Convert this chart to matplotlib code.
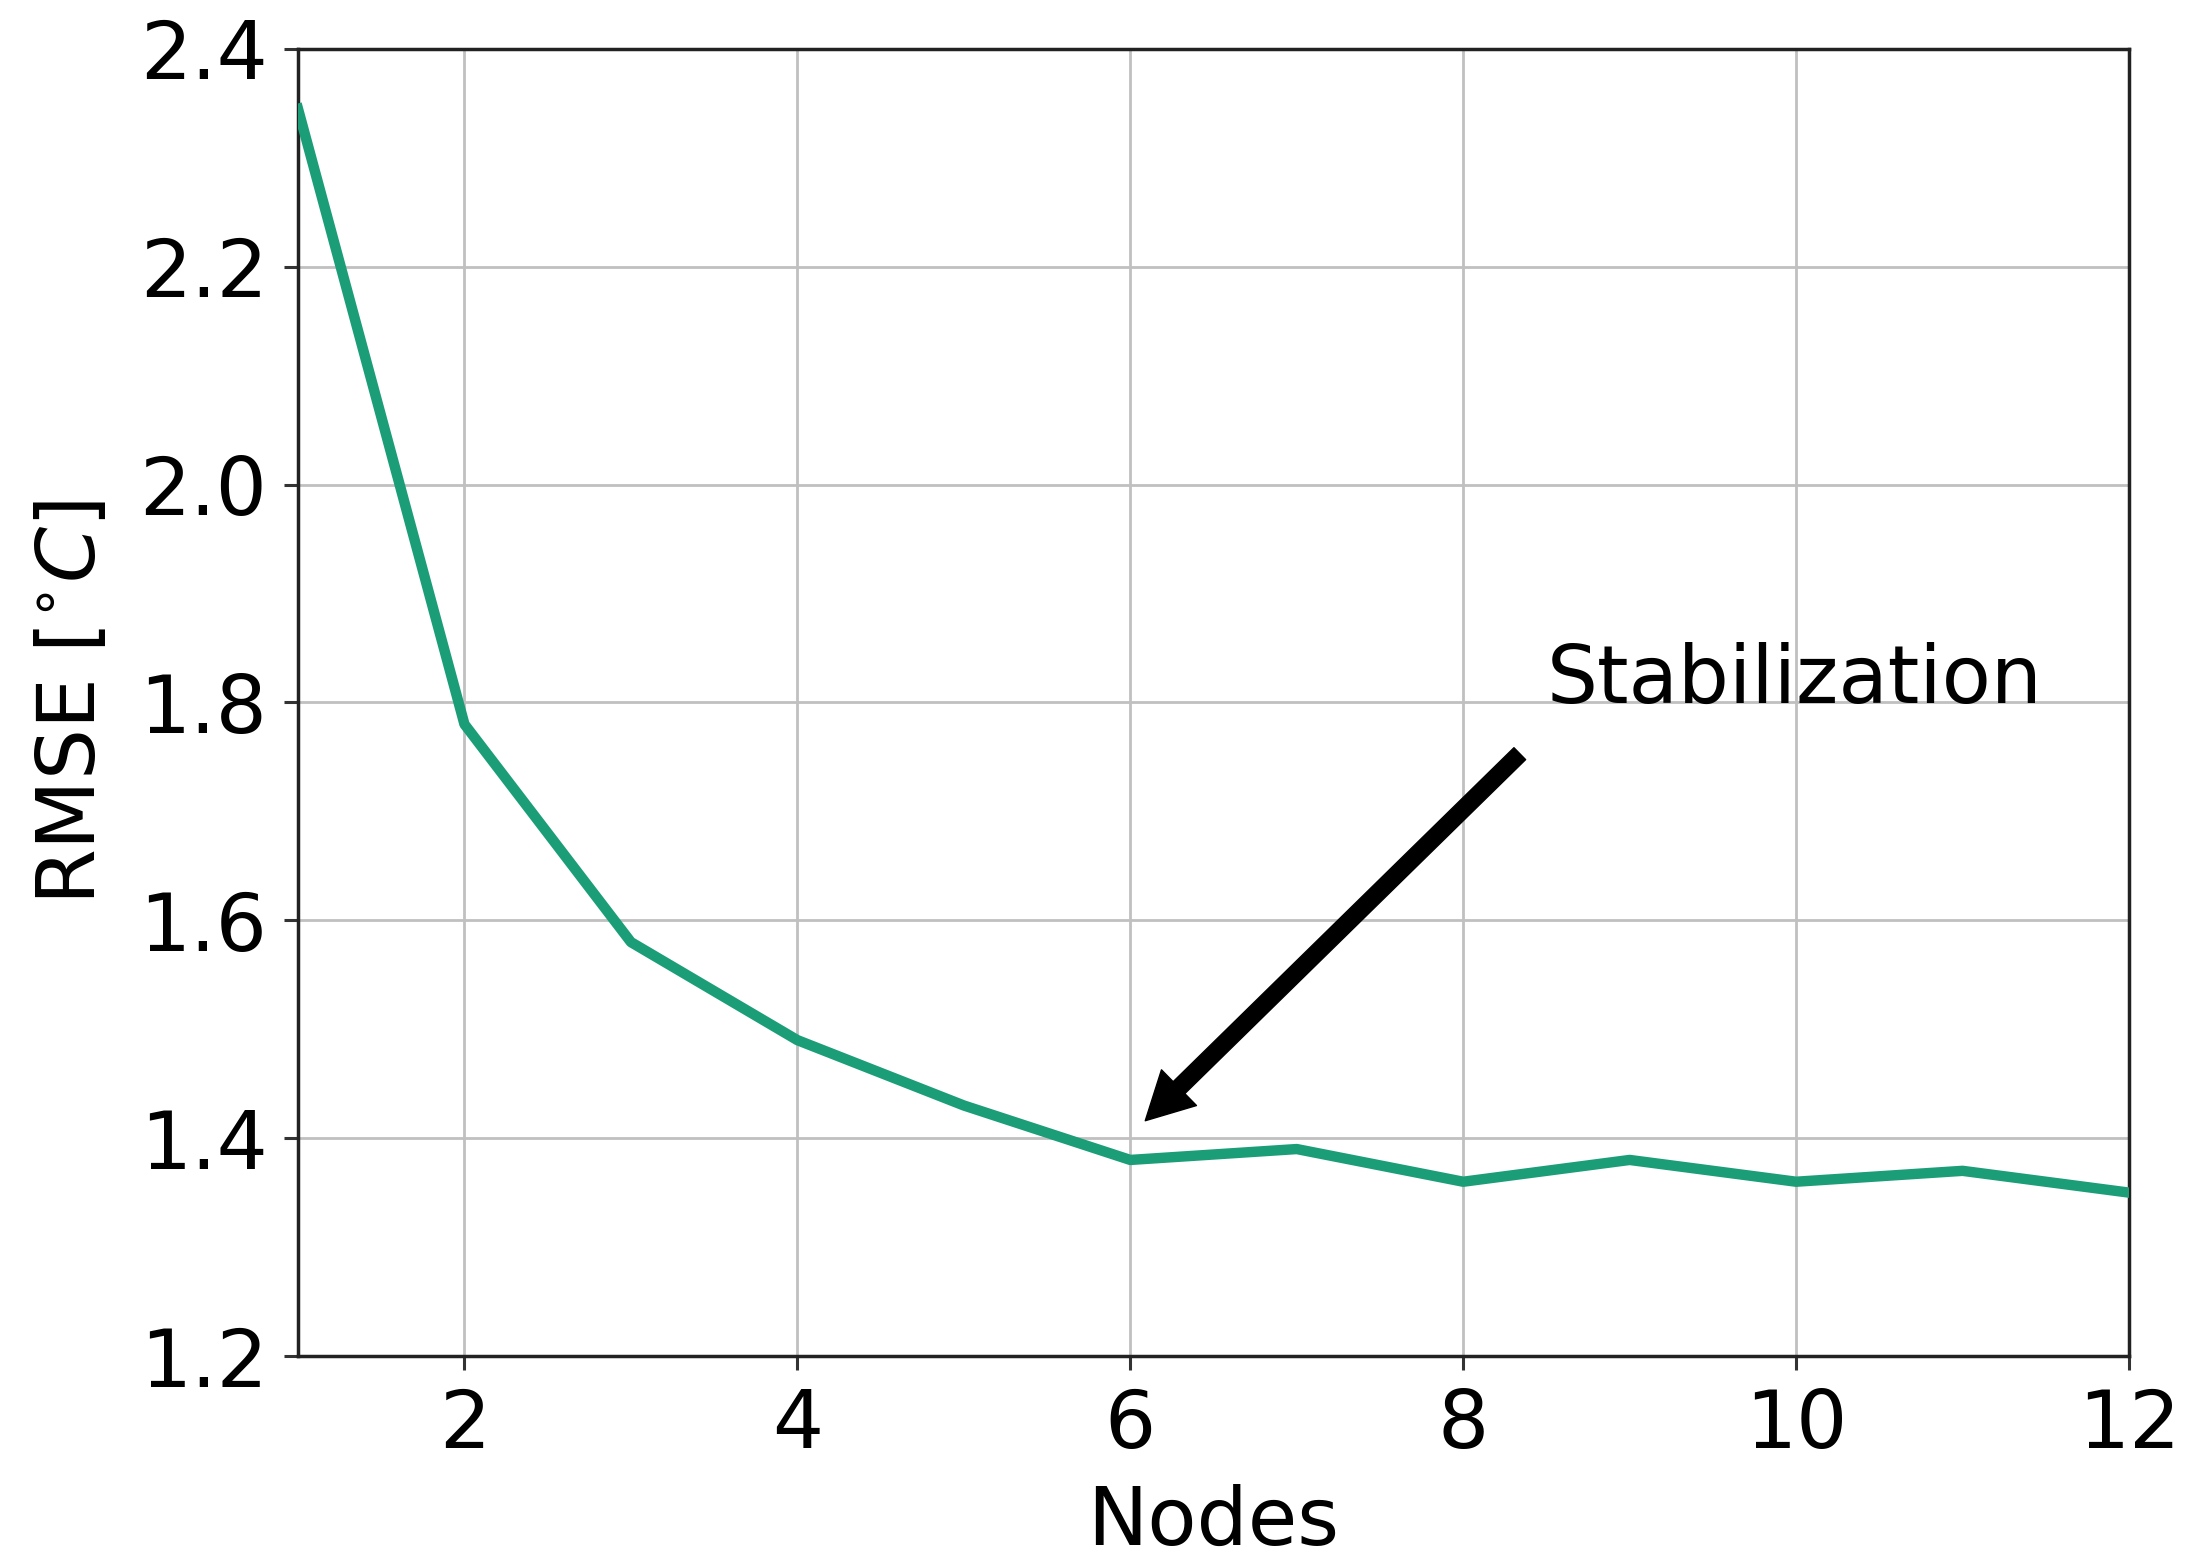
import numpy as np
import matplotlib
matplotlib.use('Agg')
import matplotlib.pyplot as plt

####################################################################################################

nodes = [1, 2, 3, 4, 5, 6, 7, 8, 9, 10, 11, 12]
rmse = [2.345, 1.78, 1.58, 1.49, 1.43, 1.38, 1.39, 1.36, 1.38, 1.36, 1.37, 1.35]

x_ticks = [2, 4, 6, 8, 10, 12]
y_ticks = [1.2, 1.4, 1.6, 1.8, 2.0, 2.2, 2.4]

####################################################################################################

plt.rcParams['font.family'] = ['DejaVu Sans']
plt.rcParams['font.size'] = 58

fig = plt.figure(figsize=(21.96, 15.68), dpi=100)
ax = fig.add_axes([0.1357, 0.1352, 0.9695 - 0.1357, 0.9688 - 0.1352])

ax.plot(nodes, rmse, color='#1b9e77', linewidth=7.5, zorder=3)

ax.set_xlim(1, 12)
ax.set_ylim(1.2, 2.4)
ax.set_xticks(x_ticks)
ax.set_yticks(y_ticks)
ax.set_yticklabels(['%.1f' % v for v in y_ticks])
ax.grid(True, color='#c0c0c0', linewidth=2)
ax.set_axisbelow(True)

for s in ax.spines.values():
    s.set_linewidth(2.5)
    s.set_color('#222222')
ax.tick_params(axis='both', length=10, width=2.2, labelsize=58, pad=12, color='#333333')

ax.set_xlabel('Nodes', fontsize=58, labelpad=14)
ax.set_ylabel(r'RMSE [$^{\circ}C$]', fontsize=58, labelpad=20)

# arrow + label
ax.annotate('', xy=(6.09, 1.416), xytext=(8.34, 1.753),
            arrowprops=dict(facecolor='black', edgecolor='black',
                            width=12, headwidth=36, headlength=34, shrink=0))
ax.text(8.5, 1.80, 'Stabilization', fontsize=58, ha='left', va='baseline')

fig.savefig('out.png', dpi=100)
